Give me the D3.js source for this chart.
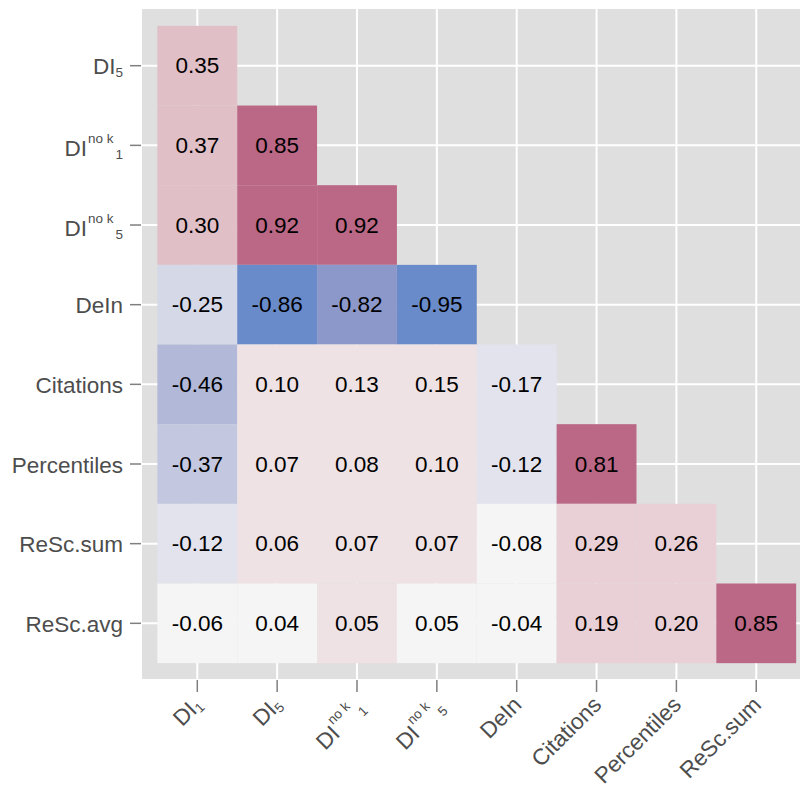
<!DOCTYPE html>
<html>
<head>
<meta charset="utf-8">
<script src="https://cdn.jsdelivr.net/npm/d3@7"></script>
<style>
  html, body { margin: 0; padding: 0; background: #ffffff; }
  svg { display: block; }
  text { font-family: "Liberation Sans", Arial, sans-serif; }
</style>
</head>
<body>
<svg id="chart" width="800" height="785"></svg>
<script>
// ---- data ----
const columns = ["DI1", "DI5", "DInok1", "DInok5", "DeIn", "Citations", "Percentiles", "ReSc.sum"];
const rows    = ["DI5", "DInok1", "DInok5", "DeIn", "Citations", "Percentiles", "ReSc.sum", "ReSc.avg"];

// lower-triangular correlation values, one array per row (columns in order above)
const rowDI5         = [0.35];
const rowDInok1      = [0.37, 0.85];
const rowDInok5      = [0.30, 0.92, 0.92];
const rowDeIn        = [-0.25, -0.86, -0.82, -0.95];
const rowCitations   = [-0.46, 0.10, 0.13, 0.15, -0.17];
const rowPercentiles = [-0.37, 0.07, 0.08, 0.10, -0.12, 0.81];
const rowResSum      = [-0.12, 0.06, 0.07, 0.07, -0.08, 0.29, 0.26];
const rowResAvg      = [-0.06, 0.04, 0.052, 0.048, -0.04, 0.19, 0.20, 0.85];
const corr = [rowDI5, rowDInok1, rowDInok5, rowDeIn, rowCitations, rowPercentiles, rowResSum, rowResAvg];

// tick label pieces (base text, superscript, subscript)
const labelBase = { "DI1": "DI", "DI5": "DI", "DInok1": "DI", "DInok5": "DI", "DeIn": "DeIn",
  "Citations": "Citations", "Percentiles": "Percentiles", "ReSc.sum": "ReSc.sum", "ReSc.avg": "ReSc.avg" };
const labelSup  = { "DInok1": "no k", "DInok5": "no k" };
const labelSub  = { "DI1": "1", "DI5": "5", "DInok1": "1", "DInok5": "5" };

// binned fill palette
const colorBreaks = [-0.84, -0.6, -0.42, -0.3, -0.2, -0.1, 0.05, 0.17, 0.295, 0.6];
const colorRange  = ["#6a8bca", "#8c98c9", "#b1b8d8", "#c3c8e0", "#d5d8e6", "#e3e3ee",
                     "#f5f5f5", "#eee2e5", "#e8d0d6", "#e0bfc6", "#bb6886"];

// ---- layout ----
const svg = d3.select("#chart");
const panel = { x0: 142, y0: 9, x1: 812, y1: 679 };

const x = d3.scalePoint().domain(columns).range([197.3, 197.3 + 7 * 79.85]);
const y = d3.scalePoint().domain(rows).range([65.7, 65.7 + 7 * 79.66]);
const cw = x.step(), ch = y.step();
const fill = d3.scaleThreshold().domain(colorBreaks).range(colorRange);

svg.append("rect").attr("width", 800).attr("height", 785).attr("fill", "#ffffff");

// panel background
svg.append("rect")
  .attr("x", panel.x0).attr("y", panel.y0)
  .attr("width", panel.x1 - panel.x0).attr("height", panel.y1 - panel.y0)
  .attr("fill", "#dfdfdf");

// gridlines
svg.append("g").selectAll("line.v").data(columns).join("line")
  .attr("x1", d => x(d)).attr("x2", d => x(d))
  .attr("y1", panel.y0).attr("y2", panel.y1)
  .attr("stroke", "#ffffff").attr("stroke-width", 2);
svg.append("g").selectAll("line.h").data(rows).join("line")
  .attr("y1", d => y(d)).attr("y2", d => y(d))
  .attr("x1", panel.x0).attr("x2", panel.x1)
  .attr("stroke", "#ffffff").attr("stroke-width", 2);

// cells
const cells = [];
corr.forEach((vals, i) => vals.forEach((v, j) => cells.push({ row: rows[i], col: columns[j], v })));

const gCells = svg.append("g");
gCells.selectAll("rect").data(cells).join("rect")
  .attr("x", d => x(d.col) - cw / 2)
  .attr("y", d => y(d.row) - ch / 2)
  .attr("width", cw).attr("height", ch)
  .attr("fill", d => fill(d.v));
gCells.selectAll("text").data(cells).join("text")
  .attr("x", d => x(d.col))
  .attr("y", d => y(d.row))
  .attr("dy", "0.345em")
  .attr("text-anchor", "middle")
  .attr("font-size", 22.5)
  .attr("fill", "#000000")
  .text(d => d.v.toFixed(2));

// label builder
function buildLabel(sel, key) {
  sel.append("tspan").text(labelBase[key]);
  let shift = 0;
  if (labelSup[key]) {
    sel.append("tspan").attr("font-size", 13.5).attr("dx", 1).attr("dy", -13).text(labelSup[key]);
    shift = -13;
  }
  if (labelSub[key]) {
    const target = 3;
    sel.append("tspan").attr("font-size", 13.5).attr("dx", labelSup[key] ? 2 : 0)
      .attr("dy", target - shift).text(labelSub[key]);
  }
}

// y axis
const gy = svg.append("g");
gy.selectAll("line").data(rows).join("line")
  .attr("x1", 130).attr("x2", 141)
  .attr("y1", d => y(d)).attr("y2", d => y(d))
  .attr("stroke", "#7f7f7f").attr("stroke-width", 1.5);
rows.forEach(r => {
  const g = gy.append("g");
  const t = g.append("text").attr("font-size", 22.5).attr("fill", "#4d4d4d");
  buildLabel(t, r);
  const b = t.node().getBBox();
  g.attr("transform", `translate(${123 - (b.x + b.width)},${y(r) + 1 - (b.y + b.height / 2)})`);
});

// x axis
const gx = svg.append("g");
gx.selectAll("line").data(columns).join("line")
  .attr("x1", d => x(d)).attr("x2", d => x(d))
  .attr("y1", 680).attr("y2", 692)
  .attr("stroke", "#7f7f7f").attr("stroke-width", 1.5);
columns.forEach(c => {
  const g = gx.append("g");
  const inner = g.append("g");
  const t = inner.append("text").attr("font-size", 22.5).attr("fill", "#4d4d4d");
  buildLabel(t, c);
  const b = t.node().getBBox();
  inner.attr("transform", `translate(${-(b.x + b.width)},${-b.y})`);
  g.attr("transform", `translate(${x(c) - 8},${692}) rotate(-45)`);
});
</script>
</body>
</html>
